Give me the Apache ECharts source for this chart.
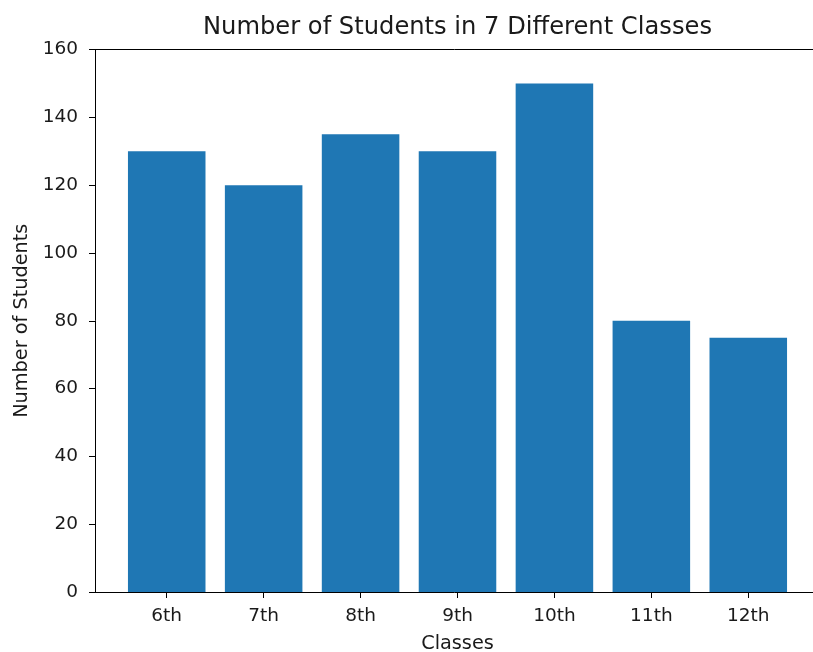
<!DOCTYPE html>
<html>
<head>
<meta charset="utf-8">
<title>Number of Students in 7 Different Classes</title>
<script src="https://cdn.jsdelivr.net/npm/echarts@6/dist/echarts.min.js"></script>
<style>
  html, body { margin: 0; padding: 0; background: #fff; }
  #chart { width: 813px; height: 652px; }
</style>
</head>
<body>
<div id="chart"></div>
<script>
// Chart data
const classes = ['6th', '7th', '8th', '9th', '10th', '11th', '12th'];
const students = [130, 120, 135, 130, 150, 80, 75];
const yTicks = [0, 20, 40, 60, 80, 100, 120, 140, 160];

// Plot area and x range (bars of width 0.8 with 5% padding on each side)
const FONT = 'DejaVu Sans';
const TEXT = '#1a1a1a';
const grid = { left: 95, top: 49.5, width: 725, height: 542.5, outerBoundsMode: 'none', containLabel: false };
const xMin = -0.74, xMax = 6.74;
const unit = grid.width / (xMax - xMin);
const positions = classes.map((_, i) => i);

const chart = echarts.init(document.getElementById('chart'), null, { renderer: 'canvas' });

const spine = { show: true, onZero: false, lineStyle: { color: '#000', width: 1 } };
const tick = { show: true, inside: false, length: 6, lineStyle: { color: '#000', width: 1 } };

chart.setOption({
  animation: false,
  backgroundColor: '#fff',
  textStyle: { fontFamily: FONT },
  title: {
    text: 'Number of Students in 7 Different Classes',
    left: grid.left + grid.width / 2,
    top: 16,
    textAlign: 'center',
    padding: 0,
    textStyle: { fontFamily: FONT, fontSize: 24.2, fontWeight: 'normal', color: TEXT }
  },
  grid: grid,
  xAxis: [
    {
      type: 'value',
      min: xMin,
      max: xMax,
      position: 'bottom',
      splitLine: { show: false },
      axisLine: spine,
      axisTick: Object.assign({ customValues: positions }, tick),
      axisLabel: {
        customValues: positions,
        formatter: v => classes[Math.round(v)],
        margin: 15,
        fontFamily: FONT, fontSize: 18.5, color: TEXT
      },
      name: 'Classes',
      nameLocation: 'middle',
      nameGap: 42,
      nameTextStyle: { fontFamily: FONT, fontSize: 19.3, color: TEXT }
    },
    {
      type: 'value',
      min: xMin,
      max: xMax,
      position: 'top',
      splitLine: { show: false },
      axisLine: spine,
      axisTick: { show: false },
      axisLabel: { show: false }
    }
  ],
  yAxis: {
    type: 'value',
    min: yTicks[0],
    max: yTicks[yTicks.length - 1],
    interval: yTicks[1] - yTicks[0],
    position: 'left',
    splitLine: { show: false },
    axisLine: spine,
    axisTick: tick,
    axisLabel: { margin: 17, fontFamily: FONT, fontSize: 18.5, color: TEXT },
    name: 'Number of Students',
    nameLocation: 'middle',
    nameRotate: 90,
    nameGap: 62,
    nameTextStyle: { fontFamily: FONT, fontSize: 19.3, color: TEXT }
  },
  series: [
    {
      type: 'bar',
      xAxisIndex: 0,
      barWidth: 0.8 * unit,
      itemStyle: { color: '#1f77b4' },
      data: classes.map((_, i) => [positions[i], students[i]])
    }
  ]
});
</script>
</body>
</html>
